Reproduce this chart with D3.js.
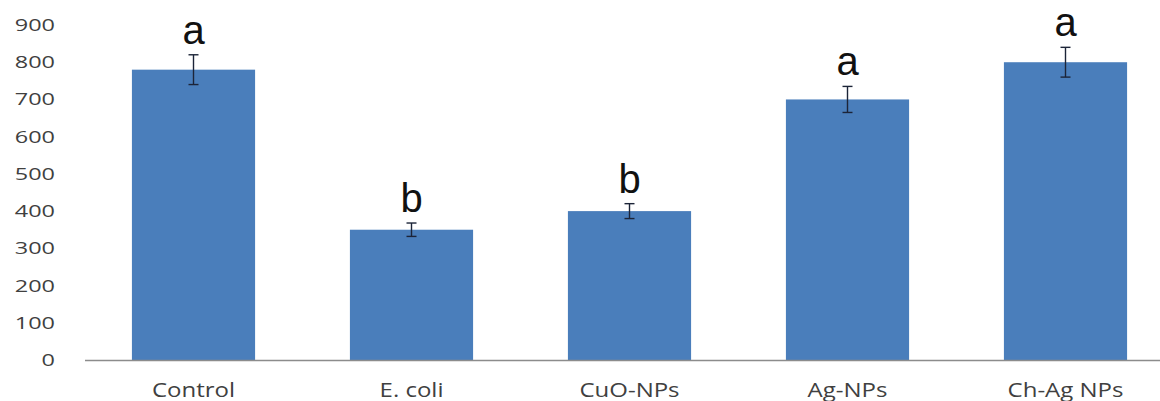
<!DOCTYPE html>
<html>
<head>
<meta charset="utf-8">
<script src="https://cdn.jsdelivr.net/npm/d3@7/dist/d3.min.js"></script>
<style>
  html, body { margin: 0; padding: 0; background: #ffffff; }
  svg { display: block; }
</style>
</head>
<body>
<svg id="chart" width="1160" height="401"></svg>
<script>
// ---- data ----
const categories = ["Control", "E. coli", "CuO-NPs", "Ag-NPs", "Ch-Ag NPs"];
const values     = [780, 350, 400, 700, 800];
const errors     = [40, 18, 20, 35, 40];
const letters    = ["a", "b", "b", "a", "a"];
const yTicks     = [0, 100, 200, 300, 400, 500, 600, 700, 800, 900];

// ---- layout ----
const W = 1160, H = 401;
const x0 = 84.5, x1 = 1174.5;   // band range (right end runs past the window edge)
const yBase = 360, yTop = 25;

const svg = d3.select("#chart");

const x = d3.scaleBand()
  .domain(categories)
  .range([x0, x1])
  .paddingInner(0.435)
  .paddingOuter(0.2175);

const y = d3.scaleLinear()
  .domain([0, 900])
  .range([yBase, yTop]);

// y axis (labels only)
const yAxis = svg.append("g")
  .attr("transform", `translate(${x0 - 1.5},0)`)
  .call(d3.axisLeft(y).tickValues(yTicks).tickSize(0).tickPadding(0));
yAxis.select(".domain").remove();
const ySX = 1.38;
yAxis.selectAll("text")
  .attr("x", -28 / ySX)
  .attr("transform", `scale(${ySX},1)`)
  .attr("font-family", "'Open Sans', sans-serif")
  .attr("font-size", 17)
  .attr("fill", "#404040");

// bars
svg.append("g").selectAll("rect")
  .data(categories)
  .join("rect")
  .attr("x", d => x(d))
  .attr("width", x.bandwidth())
  .attr("y", (d, i) => y(values[i]))
  .attr("height", (d, i) => y(0) - y(values[i]))
  .attr("fill", "#4a7ebb");

// x axis
const xAxis = svg.append("g")
  .attr("transform", `translate(0,${yBase})`)
  .call(d3.axisBottom(x).tickSize(0).tickPadding(0).tickSizeOuter(0));
xAxis.select(".domain")
  .attr("stroke", "#8c8c8c")
  .attr("stroke-width", 1.3);
const xSX = 1.2;
xAxis.selectAll(".tick text")
  .attr("y", 37)
  .attr("dy", 0)
  .attr("transform", `scale(${xSX},1)`)
  .attr("font-family", "'Open Sans', sans-serif")
  .attr("font-size", 20)
  .attr("fill", "#404040");
// compensate the horizontal scale on tick positions
xAxis.selectAll(".tick").each(function(d) {
  const cx = x(d) + x.bandwidth() / 2;
  d3.select(this).attr("transform", `translate(${cx},0)`);
});

// error bars
const eb = svg.append("g")
  .attr("stroke", "#1c2438")
  .attr("stroke-width", 1.4)
  .attr("fill", "none");
categories.forEach((c, i) => {
  const cx = x(c) + x.bandwidth() / 2;
  const yHi = y(values[i] + errors[i]);
  const yLo = y(values[i] - errors[i]);
  eb.append("line").attr("x1", cx).attr("x2", cx).attr("y1", yHi).attr("y2", yLo);
  eb.append("line").attr("x1", cx - 5).attr("x2", cx + 5).attr("y1", yHi).attr("y2", yHi);
  eb.append("line").attr("x1", cx - 5).attr("x2", cx + 5).attr("y1", yLo).attr("y2", yLo);
});

// significance letters
svg.append("g").selectAll("text")
  .data(categories)
  .join("text")
  .attr("x", d => x(d) + x.bandwidth() / 2)
  .attr("y", (d, i) => y(values[i] + errors[i]) - 11)
  .attr("text-anchor", "middle")
  .attr("font-family", "'Liberation Sans', Arial, sans-serif")
  .attr("font-size", 40)
  .attr("fill", "#111111")
  .text((d, i) => letters[i]);
</script>
</body>
</html>
